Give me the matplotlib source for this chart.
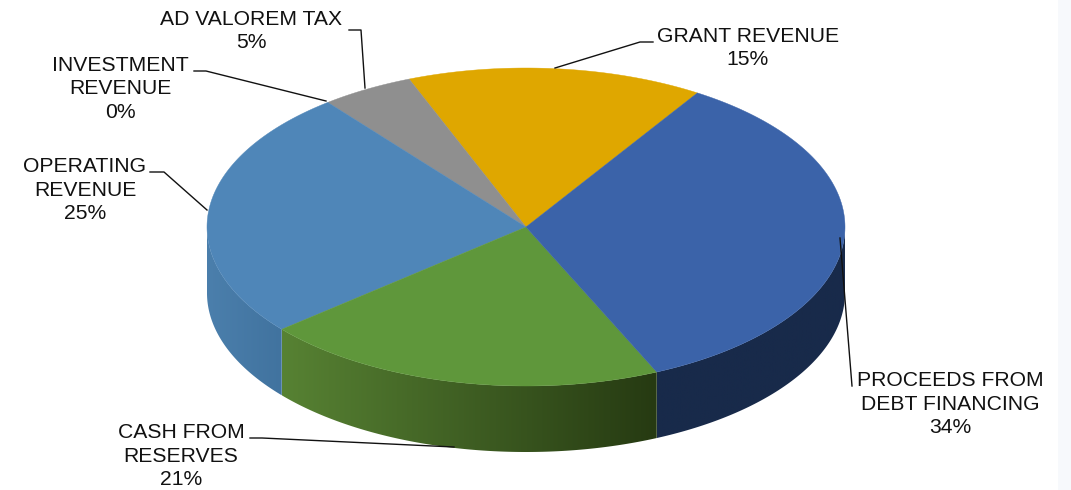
import numpy as np
import matplotlib
matplotlib.use('Agg')
import matplotlib.pyplot as plt
from matplotlib.colors import LinearSegmentedColormap
from matplotlib.patches import Polygon

plt.rcParams['font.family'] = ['Liberation Sans', 'DejaVu Sans']

# slices, counter-clockwise from the right hand edge of the grant slice
names = ['GRANT REVENUE', 'AD VALOREM TAX', 'INVESTMENT\nREVENUE', 'OPERATING\nREVENUE',
         'CASH FROM\nRESERVES', 'PROCEEDS FROM\nDEBT FINANCING']
shares = [15, 4.7, 0, 25.45, 20.6, 34.25]
top_colors = ['#dfa700', '#8f8f8f', '#4f86b8', '#4f86b8', '#5f973b', '#3b63a9']
wall_left = ['#dfa700', '#8f8f8f', '#4f86b8', '#4b7fac', '#578233', '#182a4a']
wall_right = ['#dfa700', '#8f8f8f', '#4f86b8', '#41739f', '#263a12', '#182a4a']

label_pos = [(748, 48), (251, 31), (120, 89), (85, 190), (181, 456), (950, 404)]
leaders = [[(653, 42), (640, 42), (555, 68)],
           [(349, 30), (361, 30), (365, 88)],
           [(194, 71), (206, 71), (326, 101)],
           [(150, 172), (164, 172), (207, 210)],
           [(250, 438), (262, 438), (454, 447)],
           [(852, 386), (840, 238)]]

start_angle = 57.5
cx, cy = 526, 227
rx, ry = 319, 159
depth = 66


def rim(t):
    t = np.radians(t)
    return cx + rx * np.cos(t), cy - ry * np.sin(t)


fig = plt.figure(figsize=(10.71, 4.9), dpi=100)
ax = fig.add_axes([0, 0, 1, 1])
ax.set_xlim(0, 1071)
ax.set_ylim(490, 0)
ax.axis('off')

# pale strip on the right side of the page
ax.axvspan(1058, 1071, color='#f7f9fc', lw=0, zorder=0)

angles = start_angle + np.cumsum([0] + shares) * 3.6

# front walls, only the part of each slice facing the viewer
for i in range(len(shares)):
    a = max(angles[i], 180)
    b = min(angles[i + 1], 360)
    if b <= a:
        continue
    t = np.linspace(a, b, 120)
    x, y = rim(t)
    pts = np.vstack([np.column_stack([x, y]), np.column_stack([x[::-1], y[::-1] + depth])])
    poly = Polygon(pts, closed=True, fc='none', ec='none', zorder=2)
    ax.add_patch(poly)
    cmap = LinearSegmentedColormap.from_list('w', [wall_left[i], wall_right[i]])
    im = ax.imshow(np.linspace(0, 1, 256).reshape(1, -1), cmap=cmap, aspect='auto',
                   extent=[x.min(), x.max(), cy + ry + depth, cy], zorder=2)
    im.set_clip_path(poly)

ax.set_xlim(0, 1071)
ax.set_ylim(490, 0)

# top face
for i in range(len(shares)):
    if shares[i] == 0:
        continue
    t = np.linspace(angles[i], angles[i + 1], 150)
    x, y = rim(t)
    pts = np.vstack([[cx, cy], np.column_stack([x, y])])
    ax.add_patch(Polygon(pts, closed=True, fc=top_colors[i], ec=top_colors[i], lw=0.3, zorder=3))

for i in range(len(names)):
    ax.text(label_pos[i][0], label_pos[i][1], f'{names[i]}\n{shares[i]:.0f}%', ha='center', va='center',
            fontsize=15.2, color='#111111', linespacing=1.32, zorder=5)
    xs = [p[0] for p in leaders[i]]
    ys = [p[1] for p in leaders[i]]
    ax.plot(xs, ys, color='#111111', lw=1.0, zorder=4)

fig.savefig('out.png', dpi=100)
